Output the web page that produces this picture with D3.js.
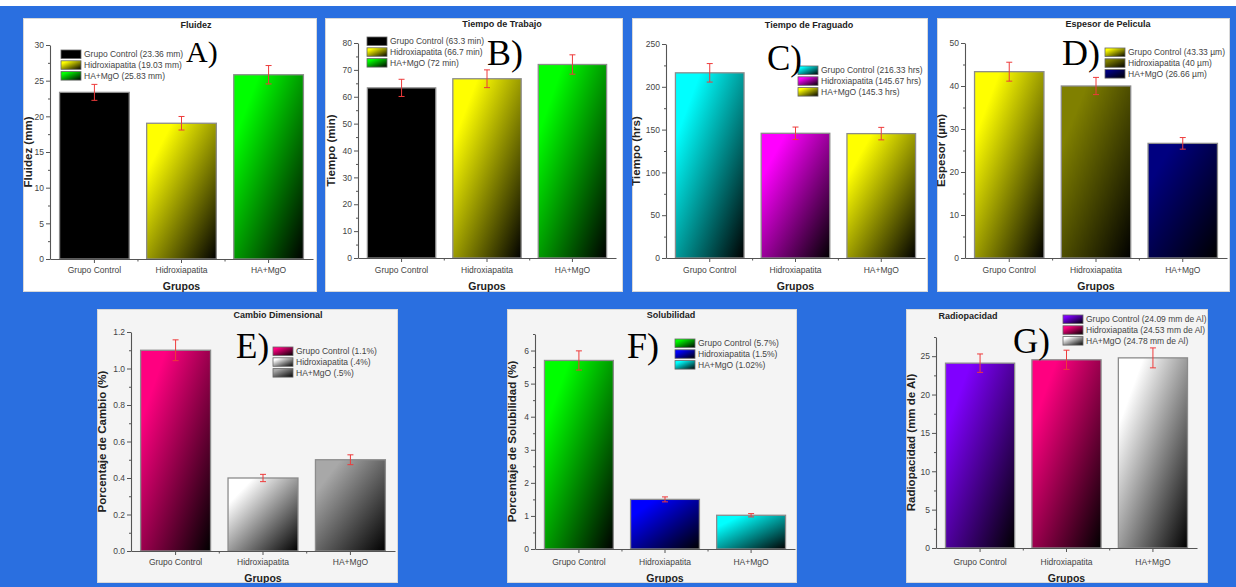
<!DOCTYPE html>
<html><head><meta charset="utf-8">
<script src="https://cdn.jsdelivr.net/npm/d3@7"></script>
<style>
body{margin:0;background:#fff}
svg{display:block}
text{font-family:"Liberation Sans",Arial,Helvetica,sans-serif}
</style>
</head><body>
<svg id="chart" width="1236" height="587"></svg>
<script>
// ---------------- DATA ----------------
const categories = ["Grupo Control", "Hidroxiapatita", "HA+MgO"];

const fluidezValues = [23.36, 19.03, 25.83];
const fluidezErrors = [1.12, 0.95, 1.29];
const fluidezTicks = [0, 5, 10, 15, 20, 25, 30];
const fluidezLegend = ["Grupo Control (23.36 mm)", "Hidroxiapatita (19.03 mm)", "HA+MgO (25.83 mm)"];

const trabajoValues = [63.3, 66.7, 72];
const trabajoErrors = [3.2, 3.3, 3.6];
const trabajoTicks = [0, 10, 20, 30, 40, 50, 60, 70, 80];
const trabajoLegend = ["Grupo Control (63.3 min)", "Hidroxiapatita (66.7 min)", "HA+MgO (72 min)"];

const fraguadoValues = [216.33, 145.67, 145.3];
const fraguadoErrors = [10.8, 7.3, 7.3];
const fraguadoTicks = [0, 50, 100, 150, 200, 250];
const fraguadoLegend = ["Grupo Control (216.33 hrs)", "Hidroxiapatita (145.67 hrs)", "HA+MgO (145.3 hrs)"];

const espesorValues = [43.33, 40, 26.66];
const espesorErrors = [2.2, 2.0, 1.35];
const espesorTicks = [0, 10, 20, 30, 40, 50];
const espesorLegend = ["Grupo Control (43.33 µm)", "Hidroxiapatita (40 µm)", "HA+MgO (26.66 µm)"];

const cambioValues = [1.1, 0.4, 0.5];
const cambioErrors = [0.057, 0.02, 0.027];
const cambioTicks = [0, 0.2, 0.4, 0.6, 0.8, 1.0, 1.2];
const cambioLegend = ["Grupo Control (1.1%)", "Hidroxiapatita (.4%)", "HA+MgO (.5%)"];

const solubilidadValues = [5.7, 1.5, 1.02];
const solubilidadErrors = [0.29, 0.075, 0.05];
const solubilidadTicks = [0, 1, 2, 3, 4, 5, 6];
const solubilidadLegend = ["Grupo Control (5.7%)", "Hidroxiapatita (1.5%)", "HA+MgO (1.02%)"];

const radioValues = [24.09, 24.53, 24.78];
const radioErrors = [1.2, 1.25, 1.3];
const radioTicks = [0, 5, 10, 15, 20, 25];
const radioLegend = ["Grupo Control (24.09 mm de Al)", "Hidroxiapatita (24.53 mm de Al)", "HA+MgO (24.78 mm de Al)"];

// ---------------- LAYOUT / STYLE ----------------
const panels = [
  {id:"A", title:"Fluidez", yTitle:"Fluidez (mm)", values:fluidezValues, errors:fluidezErrors, ticks:fluidezTicks, legend:fluidezLegend,
   ymax:30, fmt:d3.format("d"), colors:["#000000","#ffff00","#00ff00"], bg:"#ffffff",
   box:[23,18,294,274], plot:{l:50,r:313,t:45,b:259}, titleX:196, titleY:28, leg:{x:61,y:50}, letter:{x:186,y:62,s:30},
   yTitleX:28, xTitleY:290, xTickY:273},
  {id:"B", title:"Tiempo de Trabajo", yTitle:"Tiempo (min)", values:trabajoValues, errors:trabajoErrors, ticks:trabajoTicks, legend:trabajoLegend,
   ymax:80, fmt:d3.format("d"), colors:["#000000","#ffff00","#00ff00"], bg:"#ffffff",
   box:[325,18,298,274], plot:{l:358,r:616,t:43,b:258}, titleX:502, titleY:27, leg:{x:367,y:37}, letter:{x:487,y:65,s:36},
   yTitleX:331, xTitleY:290, xTickY:273},
  {id:"C", title:"Tiempo de Fraguado", yTitle:"Tiempo (hrs)", values:fraguadoValues, errors:fraguadoErrors, ticks:fraguadoTicks, legend:fraguadoLegend,
   ymax:250, fmt:d3.format("d"), colors:["#00ffff","#ff00ff","#ffff00"], bg:"#ffffff",
   box:[632,18,296,274], plot:{l:666,r:925,t:44,b:258}, titleX:809, titleY:28, leg:{x:798,y:66}, letter:{x:767,y:70,s:35},
   yTitleX:636, xTitleY:290, xTickY:273},
  {id:"D", title:"Espesor de Pelicula", yTitle:"Espesor (µm)", values:espesorValues, errors:espesorErrors, ticks:espesorTicks, legend:espesorLegend,
   ymax:50, fmt:d3.format("d"), colors:["#ffff00","#808000","#000080"], bg:"#ffffff",
   box:[937,18,293,274], plot:{l:965,r:1227,t:43,b:258}, titleX:1108, titleY:27, leg:{x:1105,y:48}, letter:{x:1062,y:65,s:36},
   yTitleX:941, xTitleY:290, xTickY:273},
  {id:"E", title:"Cambio Dimensional", yTitle:"Porcentaje de Cambio (%)", values:cambioValues, errors:cambioErrors, ticks:cambioTicks, legend:cambioLegend,
   ymax:1.2, fmt:d3.format(".1f"), colors:["#ff0080","#ffffff","#a8a8a8"], bg:"#f4f4f4",
   box:[97,309,301,274], plot:{l:131,r:395,t:332,b:551}, titleX:278, titleY:318, leg:{x:273,y:347}, letter:{x:236,y:358,s:35},
   yTitleX:102, xTitleY:582, xTickY:565},
  {id:"F", title:"Solubilidad", yTitle:"Porcentaje de Solubilidad (%)", values:solubilidadValues, errors:solubilidadErrors, ticks:solubilidadTicks, legend:solubilidadLegend,
   ymax:6.5, fmt:d3.format("d"), colors:["#00ff00","#0000ff","#00ffff"], bg:"#f4f4f4",
   box:[507,309,290,274], plot:{l:535,r:795,t:334,b:549}, titleX:671, titleY:318, leg:{x:675,y:339}, letter:{x:627,y:358,s:36},
   yTitleX:512, xTitleY:582, xTickY:565},
  {id:"G", title:"Radiopacidad", yTitle:"Radiopacidad (mm de Al)", values:radioValues, errors:radioErrors, ticks:radioTicks, legend:radioLegend,
   ymax:27.5, fmt:d3.format("d"), colors:["#8000ff","#ff0080","#ffffff"], bg:"#f4f4f4",
   box:[906,309,302,274], plot:{l:936,r:1197,t:337,b:548}, titleX:968, titleY:319, leg:{x:1063,y:315}, letter:{x:1013,y:353,s:35},
   yTitleX:911, xTitleY:582, xTickY:565}
];

const svg = d3.select("#chart");
const W = 1236, H = 587;
svg.append("rect").attr("width", W).attr("height", H).attr("fill", "#ffffff");
svg.append("rect").attr("x", 0).attr("y", 6).attr("width", W).attr("height", H - 6).attr("fill", "#2a6fe0");

const defs = svg.append("defs");
const gradId = {};
function gradient(color) {
  if (gradId[color]) return gradId[color];
  const id = "g" + Object.keys(gradId).length;
  const g = defs.append("linearGradient").attr("id", id)
    .attr("x1", 0).attr("y1", 0).attr("x2", 1).attr("y2", 1);
  g.append("stop").attr("offset", 0).attr("stop-color", color);
  g.append("stop").attr("offset", 0.18).attr("stop-color", color);
  g.append("stop").attr("offset", 1).attr("stop-color", "#000000");
  gradId[color] = id;
  return id;
}

const axisColor = "#555";
const textColor = "#444";

panels.forEach(p => {
  const [bx, by, bw, bh] = p.box;
  const clipId = "clip" + p.id;
  defs.append("clipPath").attr("id", clipId)
    .append("rect").attr("x", bx).attr("y", by).attr("width", bw).attr("height", bh);

  const g = svg.append("g").attr("clip-path", `url(#${clipId})`);
  g.append("rect").attr("x", bx + 0.5).attr("y", by + 0.5).attr("width", bw - 1).attr("height", bh - 1)
    .attr("fill", p.bg).attr("stroke", "#d8d8d8").attr("stroke-width", 1);

  const pl = p.plot;
  const y = d3.scaleLinear().domain([0, p.ymax]).range([pl.b, pl.t]);
  const x = d3.scaleBand().domain(categories).range([pl.l, pl.r]).paddingInner(0.2).paddingOuter(0.11);

  // minor ticks (midpoints between labelled ticks, up to axis end)
  const step = p.ticks[1] - p.ticks[0];
  const minor = [];
  for (let i = 0; i < p.ticks.length; i++) {
    const m = p.ticks[i] + step / 2;
    if (m <= p.ymax + 1e-9) minor.push(m);
  }

  // y axis
  const yAxis = g.append("g").attr("transform", `translate(${pl.l},0)`)
    .call(d3.axisLeft(y).tickValues(p.ticks).tickFormat(p.fmt).tickSize(4).tickSizeOuter(0).tickPadding(2));
  g.append("g").attr("transform", `translate(${pl.l},0)`)
    .call(d3.axisLeft(y).tickValues(minor).tickFormat("").tickSize(2).tickSizeOuter(0))
    .call(a => a.select(".domain").remove())
    .selectAll("line").attr("stroke", axisColor);
  yAxis.select(".domain").attr("stroke", axisColor).attr("stroke-width", 1.1);
  yAxis.selectAll(".tick line").attr("stroke", axisColor);
  yAxis.selectAll(".tick text").attr("fill", textColor).style("font-size", "8.5px");

  // bars
  g.selectAll("rect.bar").data(categories).join("rect").attr("class", "bar")
    .attr("x", d => x(d)).attr("width", x.bandwidth())
    .attr("y", (d, i) => y(p.values[i])).attr("height", (d, i) => y(0) - y(p.values[i]))
    .attr("fill", (d, i) => `url(#${gradient(p.colors[i])})`)
    .attr("stroke", "#8c8c8c").attr("stroke-width", 1.3);

  // x axis
  const xAxis = g.append("g").attr("transform", `translate(0,${pl.b})`)
    .call(d3.axisBottom(x).tickSize(4).tickSizeOuter(0).tickPadding(4));
  xAxis.select(".domain").attr("stroke", axisColor).attr("stroke-width", 1.1);
  xAxis.selectAll(".tick line").attr("stroke", axisColor);
  xAxis.selectAll(".tick text").remove();
  const mids = categories.slice(1).map(c => x(c) - x.step() * x.paddingInner() / 2);
  g.selectAll("line.xminor").data(mids).join("line").attr("class", "xminor")
    .attr("x1", d => d).attr("x2", d => d).attr("y1", pl.b).attr("y2", pl.b + 2.5)
    .attr("stroke", axisColor);
  g.selectAll("text.xlab").data(categories).join("text").attr("class", "xlab")
    .attr("x", d => x(d) + x.bandwidth() / 2).attr("y", p.xTickY)
    .attr("text-anchor", "middle").attr("fill", textColor).style("font-size", "8.5px").text(d => d);

  // error bars
  const eg = g.append("g").attr("stroke", "#ee3b3b").attr("stroke-width", 1);
  categories.forEach((c, i) => {
    const cx = x(c) + x.bandwidth() / 2;
    const y1 = y(p.values[i] + p.errors[i]), y2 = y(p.values[i] - p.errors[i]);
    eg.append("line").attr("x1", cx).attr("x2", cx).attr("y1", y1).attr("y2", y2);
    eg.append("line").attr("x1", cx - 3).attr("x2", cx + 3).attr("y1", y1).attr("y2", y1);
    eg.append("line").attr("x1", cx - 3).attr("x2", cx + 3).attr("y1", y2).attr("y2", y2);
  });

  // titles
  g.append("text").attr("x", p.titleX).attr("y", p.titleY).attr("text-anchor", "middle")
    .attr("fill", "#222").style("font-size", "9px").style("font-weight", "bold").text(p.title);
  g.append("text").attr("transform", `translate(${p.yTitleX + 4},${(pl.t + pl.b) / 2}) rotate(-90)`)
    .attr("text-anchor", "middle").attr("fill", "#222").style("font-size", "11.5px").style("font-weight", "bold").text(p.yTitle);
  g.append("text").attr("x", (pl.l + pl.r) / 2).attr("y", p.xTitleY).attr("text-anchor", "middle")
    .attr("fill", "#222").style("font-size", "10.5px").style("font-weight", "bold").text("Grupos");

  // legend
  const lg = g.append("g").attr("transform", `translate(${p.leg.x},${p.leg.y})`);
  p.legend.forEach((t, i) => {
    lg.append("rect").attr("x", 0).attr("y", i * 10.8).attr("width", 20).attr("height", 8.5)
      .attr("fill", `url(#${gradient(p.colors[i])})`).attr("stroke", "#666").attr("stroke-width", 0.8);
    lg.append("text").attr("x", 23).attr("y", i * 10.8 + 7.3).attr("fill", textColor)
      .style("font-size", "8.5px").text(t);
  });

  // panel letter
  g.append("text").attr("x", p.letter.x).attr("y", p.letter.y)
    .style("font-family", "'Liberation Serif','Times New Roman',serif").style("font-size", p.letter.s + "px")
    .attr("fill", "#000").text(p.id + ")");
});
</script>
</body></html>
